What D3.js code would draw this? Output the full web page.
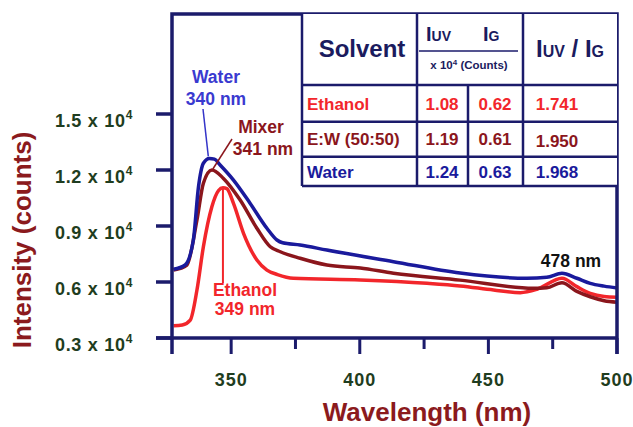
<!DOCTYPE html>
<html>
<head>
<meta charset="utf-8">
<script src="https://cdn.jsdelivr.net/npm/d3@7/dist/d3.min.js"></script>
<style>
  html, body { margin: 0; padding: 0; background: #fff; }
  svg { display: block; font-family: Arial, "Liberation Sans", Helvetica, sans-serif; font-weight: bold; }
</style>
</head>
<body>
<div id="chart"></div>
<script>
// spectra, [wavelength nm, intensity x 10^4]
var water = [[327.6,0.668],[332.1,0.691],[335.3,0.825],[337.3,1.11],[339.2,1.236],[341.5,1.262],[343.5,1.258],[345.7,1.227],[350.9,1.146],[357.4,1.021],[363.9,0.888],[367.8,0.825],[370,0.81],[376.8,0.798],[387.2,0.771],[413.1,0.709],[439,0.648],[465,0.62],[472.7,0.625],[478.6,0.647],[484.4,0.62],[489.6,0.593],[495,0.578],[500,0.568]];
var mixer = [[327.6,0.664],[332.8,0.691],[336.7,0.932],[339.2,1.129],[342.5,1.2],[347,1.155],[353.5,1.039],[360,0.888],[365.2,0.789],[369.1,0.762],[376.8,0.727],[387.2,0.691],[400.2,0.675],[413.1,0.647],[439,0.61],[467.5,0.566],[472.7,0.569],[478.6,0.596],[484.4,0.55],[489.6,0.521],[495,0.5],[500,0.492]];
var ethanol = [[327.6,0.366],[331,0.37],[334.1,0.396],[336.7,0.557],[339.2,0.789],[342.5,1.003],[345.1,1.09],[346.8,1.105],[348.3,1.1],[350.9,1.021],[354.8,0.861],[360,0.718],[363.9,0.664],[368,0.64],[374.2,0.62],[400.2,0.611],[426.1,0.593],[439,0.579],[452,0.557],[462.4,0.543],[468.9,0.561],[478.6,0.62],[484.4,0.575],[489.6,0.539],[495,0.522],[500,0.518]];

var xMajor = [350, 400, 450, 500];
var xMinor = [375, 425, 475];
var yTicks = [0.3, 0.6, 0.9, 1.2, 1.5];
var yTickLabels = ["0.3 x 10", "0.6 x 10", "0.9 x 10", "1.2 x 10", "1.5 x 10"];

// table
var solvents = ["Ethanol", "E:W (50:50)", "Water"];
var iuvVals = ["1.08", "1.19", "1.24"];
var igVals = ["0.62", "0.61", "0.63"];
var ratioVals = ["1.741", "1.950", "1.968"];

var navy = "#1b1b6b",
    waterColor = "#1a1a9c",
    mixerColor = "#8b161c",
    ethanolColor = "#f2262b",
    tickColor = "#1f3d20",
    titleColor = "#8b1a1d";
var rowColors = [ethanolColor, mixerColor, waterColor];

var width = 633, height = 427;
var pLeft = 172, pRight = 617, pTop = 14, pBottom = 338;

var x = d3.scaleLinear().domain([327, 500]).range([pLeft, pRight]);
var y = d3.scaleLinear().domain([0.3, 1.5]).range([pBottom, 114]);

var svg = d3.select("#chart").append("svg")
    .attr("width", width)
    .attr("height", height);

svg.append("clipPath").attr("id", "plotclip")
  .append("rect")
    .attr("x", pLeft).attr("y", pTop)
    .attr("width", pRight - pLeft).attr("height", pBottom - pTop);

// lines
var line = d3.line()
    .x(function (d) { return x(d[0]); })
    .y(function (d) { return y(d[1]); })
    .curve(d3.curveMonotoneX);

var series = [
  { data: ethanol, color: ethanolColor },
  { data: mixer, color: mixerColor },
  { data: water, color: waterColor }
];

svg.append("g").attr("clip-path", "url(#plotclip)")
  .selectAll("path").data(series)
  .enter().append("path")
    .attr("d", function (d) { return line(d.data); })
    .attr("fill", "none")
    .attr("stroke", function (d) { return d.color; })
    .attr("stroke-width", 3.5)
    .attr("stroke-linejoin", "round");

// frame
var frame = svg.append("g").attr("stroke", navy).attr("fill", "none");
frame.append("path")
    .attr("d", "M" + pLeft + "," + (pBottom + 16) + "V" + pTop + "H" + pRight + "V" + (pBottom + 16))
    .attr("stroke-width", 3.5);
frame.append("line")
    .attr("x1", pLeft - 16).attr("x2", pRight)
    .attr("y1", pBottom).attr("y2", pBottom)
    .attr("stroke-width", 3.5);

// x ticks
frame.selectAll("line.major").data(xMajor)
  .enter().append("line").attr("class", "major")
    .attr("x1", function (d) { return x(d); }).attr("x2", function (d) { return x(d); })
    .attr("y1", pBottom).attr("y2", pBottom + 16)
    .attr("stroke-width", 3);
frame.selectAll("line.minor").data(xMinor)
  .enter().append("line").attr("class", "minor")
    .attr("x1", function (d) { return x(d); }).attr("x2", function (d) { return x(d); })
    .attr("y1", pBottom).attr("y2", pBottom + 11)
    .attr("stroke-width", 3);
// y ticks
frame.selectAll("line.ytick").data(yTicks)
  .enter().append("line").attr("class", "ytick")
    .attr("x1", pLeft - 16).attr("x2", pLeft)
    .attr("y1", function (d) { return y(d); }).attr("y2", function (d) { return y(d); })
    .attr("stroke-width", 3.5);

svg.selectAll("text.xlab").data(xMajor)
  .enter().append("text").attr("class", "xlab")
    .attr("x", function (d) { return x(d); })
    .attr("y", 386)
    .attr("text-anchor", "middle")
    .attr("font-size", 18)
    .attr("letter-spacing", 1)
    .attr("fill", tickColor)
    .text(function (d) { return d; });

var ylab = svg.selectAll("text.ylab").data(yTicks)
  .enter().append("text").attr("class", "ylab")
    .attr("x", 133)
    .attr("y", function (d) { return y(d) + 13; })
    .attr("text-anchor", "end")
    .attr("font-size", 18)
    .attr("letter-spacing", 0.7)
    .attr("fill", tickColor);
ylab.append("tspan").text(function (d, i) { return yTickLabels[i]; });
ylab.append("tspan").attr("dy", -8).attr("font-size", 12).text("4");

// axis titles
svg.append("text")
    .attr("x", 427).attr("y", 421)
    .attr("text-anchor", "middle")
    .attr("font-size", 26)
    .attr("fill", titleColor)
    .text("Wavelength (nm)");
svg.append("text")
    .attr("transform", "translate(31,240) rotate(-90)")
    .attr("text-anchor", "middle")
    .attr("font-size", 26)
    .attr("fill", titleColor)
    .text("Intensity (counts)");

// table
var tLeft = 302, tRight = pRight, tTop = pTop, tHead = 85, tBottom = 186;
var colA = 417, colB = 468, colC = 523;
var rowLines = [121.7, 156.7];
var rowBase = [110, 145, 178];

var tbl = svg.append("g");
tbl.append("rect")
    .attr("x", tLeft).attr("y", tTop)
    .attr("width", tRight - tLeft).attr("height", tBottom - tTop)
    .attr("fill", "#fff");
var tl = tbl.append("g").attr("stroke", navy).attr("stroke-width", 2.5);
[tLeft, colA, colC].forEach(function (cx) {
  tl.append("line").attr("x1", cx).attr("x2", cx).attr("y1", tTop).attr("y2", tBottom);
});
tl.append("line").attr("x1", colB).attr("x2", colB).attr("y1", tHead).attr("y2", tBottom);
[tHead].concat(rowLines).concat([tBottom]).forEach(function (ry) {
  tl.append("line").attr("x1", tLeft).attr("x2", tRight).attr("y1", ry).attr("y2", ry);
});
tl.append("line").attr("x1", 419).attr("x2", 518).attr("y1", 51).attr("y2", 51).attr("stroke-width", 1.5);

tbl.append("text").attr("x", 362).attr("y", 57).attr("text-anchor", "middle")
    .attr("font-size", 24).attr("fill", "#1b1b5e").text("Solvent");

function iText(g, px, py, sub, big, small) {
  var t = g.append("text").attr("x", px).attr("y", py).attr("fill", "#1b1b5e");
  t.append("tspan").attr("font-size", big).text("I");
  t.append("tspan").attr("font-size", small).text(sub);
  return t;
}
iText(tbl, 426, 41, "UV", 20, 14);
iText(tbl, 483, 41, "G", 20, 14);
var r = tbl.append("text").attr("x", 570).attr("y", 57).attr("text-anchor", "middle").attr("fill", "#1b1b5e");
r.append("tspan").attr("font-size", 24).text("I");
r.append("tspan").attr("font-size", 16).text("UV");
r.append("tspan").attr("font-size", 24).text(" / I");
r.append("tspan").attr("font-size", 16).text("G");

var cnt = tbl.append("text").attr("x", 469).attr("y", 69).attr("text-anchor", "middle")
    .attr("font-size", 11.5).attr("fill", "#1b1b5e");
cnt.append("tspan").text("x 10");
cnt.append("tspan").attr("dy", -4).attr("font-size", 8).text("4");
cnt.append("tspan").attr("dy", 4).text(" (Counts)");

solvents.forEach(function (s, i) {
  var g = tbl.append("g").attr("fill", rowColors[i]).attr("font-size", 17);
  g.append("text").attr("x", 307).attr("y", rowBase[i]).text(s);
  g.append("text").attr("x", 442).attr("y", rowBase[i]).attr("text-anchor", "middle").text(iuvVals[i]);
  g.append("text").attr("x", 495).attr("y", rowBase[i]).attr("text-anchor", "middle").text(igVals[i]);
  g.append("text").attr("x", 557).attr("y", rowBase[i] + (i === 1 ? 2 : 0)).attr("text-anchor", "middle").text(ratioVals[i]);
});

// peak annotations
function peak(data) {
  return data.reduce(function (a, b) { return b[1] > a[1] ? b : a; });
}
var wp = peak(water), mp = peak(mixer), ep = peak(ethanol);
var ann = svg.append("g").attr("font-size", 17.5);

ann.append("line").attr("x1", 203).attr("y1", 109).attr("x2", x(wp[0]) - 1).attr("y2", y(wp[1]) - 2)
    .attr("stroke", "#3434c8").attr("stroke-width", 1.5);
ann.append("text").attr("x", 216).attr("y", 83).attr("text-anchor", "middle").attr("fill", "#3a3ad0").text("Water");
ann.append("text").attr("x", 216).attr("y", 105).attr("text-anchor", "middle").attr("fill", "#3a3ad0").text("340 nm");

ann.append("line").attr("x1", 232).attr("y1", 139).attr("x2", x(mp[0]) + 1).attr("y2", y(mp[1]) - 1)
    .attr("stroke", mixerColor).attr("stroke-width", 1.5);
ann.append("text").attr("x", 261).attr("y", 133).attr("text-anchor", "middle").attr("fill", mixerColor).text("Mixer");
ann.append("text").attr("x", 263).attr("y", 155).attr("text-anchor", "middle").attr("fill", mixerColor).text("341 nm");

ann.append("line").attr("x1", x(ep[0])).attr("y1", y(ep[1])).attr("x2", x(ep[0])).attr("y2", 283)
    .attr("stroke", ethanolColor).attr("stroke-width", 2);
ann.append("text").attr("x", 245).attr("y", 296).attr("text-anchor", "middle").attr("fill", ethanolColor).text("Ethanol");
ann.append("text").attr("x", 245).attr("y", 315).attr("text-anchor", "middle").attr("fill", ethanolColor).text("349 nm");

ann.append("text").attr("x", 571).attr("y", 267).attr("text-anchor", "middle").attr("fill", "#111").text("478 nm");
</script>
</body>
</html>
